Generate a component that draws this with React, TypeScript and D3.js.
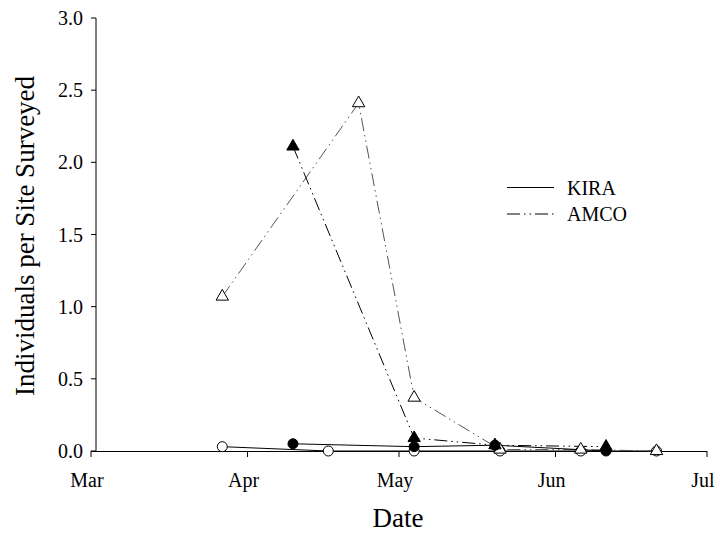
import React from "react";
import * as d3 from "d3";

// Survey dates and mean counts per site
const kiraOpenDates = ["2002-03-27", "2002-04-17", "2002-05-04", "2002-05-21", "2002-06-06", "2002-06-21"];
const kiraOpenValues = [0.03, 0.0, 0.0, 0.0, 0.0, 0.0];
const kiraFilledDates = ["2002-04-10", "2002-05-04", "2002-05-20", "2002-06-11"];
const kiraFilledValues = [0.05, 0.03, 0.04, 0.0];
const amcoOpenDates = ["2002-03-27", "2002-04-23", "2002-05-04", "2002-05-21", "2002-06-06", "2002-06-21"];
const amcoOpenValues = [1.07, 2.41, 0.37, 0.01, 0.01, 0.0];
const amcoFilledDates = ["2002-04-10", "2002-05-04", "2002-05-20", "2002-06-11"];
const amcoFilledValues = [2.11, 0.09, 0.04, 0.03];

const monthTicks = ["2002-03-01", "2002-04-01", "2002-05-01", "2002-06-01", "2002-07-01"];
const monthLabels = ["Mar", "Apr", "May", "Jun", "Jul"];
const yTicks = [0, 0.5, 1.0, 1.5, 2.0, 2.5, 3.0];

const legendNames = ["KIRA", "AMCO"];

const parse = d3.utcParse("%Y-%m-%d");
const FONT = "'Liberation Serif', 'Times New Roman', serif";
const DASH_DOT_DOT = "13,4,1.5,4,1.5,4";

type Pt = { d: Date; v: number };
const zipSeries = (dates: string[], vals: number[]): Pt[] =>
  dates.map((s, i) => ({ d: parse(s) as Date, v: vals[i] }));

export default function App() {
  const width = 716;
  const height = 535;
  const xLeft = 91;
  const xRight = 707;
  const yAxisX = 96;
  const yBottom = 451;
  const yTop = 18;

  const x = d3
    .scaleUtc()
    .domain([parse(monthTicks[0]) as Date, parse(monthTicks[monthTicks.length - 1]) as Date])
    .range([xLeft, xRight]);
  const y = d3.scaleLinear().domain([0, 3]).range([yBottom, yTop]);

  const line = d3
    .line<Pt>()
    .x((p) => x(p.d))
    .y((p) => y(p.v));

  const kiraOpen = zipSeries(kiraOpenDates, kiraOpenValues);
  const kiraFilled = zipSeries(kiraFilledDates, kiraFilledValues);
  const amcoOpen = zipSeries(amcoOpenDates, amcoOpenValues);
  const amcoFilled = zipSeries(amcoFilledDates, amcoFilledValues);

  const tri = d3.symbol().type(d3.symbolTriangle).size(66)() as string;
  const circleR = 5;

  return (
    <svg width={width} height={height} style={{ position: "absolute", left: 0, top: 0, background: "#fff" }}>
      <rect x={0} y={0} width={width} height={height} fill="#fff" />

      {/* axes */}
      <line x1={yAxisX} y1={yTop} x2={yAxisX} y2={yBottom} stroke="#000" strokeWidth={1} />
      <line x1={xLeft} y1={yBottom + 0.5} x2={xRight} y2={yBottom + 0.5} stroke="#000" strokeWidth={1} />
      {yTicks.map((t) => (
        <g key={t}>
          <line x1={yAxisX - 5} y1={y(t)} x2={yAxisX} y2={y(t)} stroke="#000" strokeWidth={1} />
          <text
            x={83}
            y={y(t)}
            dy="0.35em"
            textAnchor="end"
            fontFamily={FONT}
            fontSize={20}
            fill="#000"
          >
            {t.toFixed(1)}
          </text>
        </g>
      ))}
      {monthTicks.map((m, i) => {
        const px = x(parse(m) as Date);
        return (
          <g key={m}>
            <line x1={px} y1={yBottom} x2={px} y2={yBottom + 6} stroke="#000" strokeWidth={1} />
            <text x={px - 4} y={yBottom + 36} textAnchor="middle" fontFamily={FONT} fontSize={20} fill="#000">
              {monthLabels[i]}
            </text>
          </g>
        );
      })}

      {/* axis titles */}
      <text x={398} y={527} textAnchor="middle" fontFamily={FONT} fontSize={27} fill="#000">
        Date
      </text>
      <text
        transform={`translate(34,236) rotate(-90)`}
        textAnchor="middle"
        fontFamily={FONT}
        fontSize={27}
        fill="#000"
      >
        Individuals per Site Surveyed
      </text>

      {/* series lines */}
      <path d={line(kiraOpen) as string} fill="none" stroke="#000" strokeWidth={1} />
      <path d={line(amcoOpen) as string} fill="none" stroke="#555" strokeWidth={1} strokeDasharray={DASH_DOT_DOT} />
      <path d={line(kiraFilled) as string} fill="none" stroke="#000" strokeWidth={1} />
      <path d={line(amcoFilled) as string} fill="none" stroke="#000" strokeWidth={1} strokeDasharray={DASH_DOT_DOT} />

      {/* markers */}
      {kiraOpen.map((p, i) => (
        <circle key={`ko${i}`} cx={x(p.d)} cy={y(p.v)} r={circleR} fill="#fff" stroke="#000" strokeWidth={1} />
      ))}
      {amcoOpen.map((p, i) => (
        <path
          key={`ao${i}`}
          d={tri}
          transform={`translate(${x(p.d)},${y(p.v)})`}
          fill="#fff"
          stroke="#000"
          strokeWidth={1}
        />
      ))}
      {kiraFilled.map((p, i) => (
        <circle key={`kf${i}`} cx={x(p.d)} cy={y(p.v)} r={circleR} fill="#000" stroke="#000" strokeWidth={1} />
      ))}
      {amcoFilled.map((p, i) => (
        <path
          key={`af${i}`}
          d={tri}
          transform={`translate(${x(p.d)},${y(p.v)})`}
          fill="#000"
          stroke="#000"
          strokeWidth={1}
        />
      ))}

      {/* legend */}
      {legendNames.map((name, i) => {
        const ly = 187.5 + i * 26.5;
        return (
          <g key={name}>
            <line
              x1={507}
              y1={ly}
              x2={554}
              y2={ly}
              stroke="#000"
              strokeWidth={1}
              strokeDasharray={i === 0 ? undefined : DASH_DOT_DOT}
            />
            <text x={567} y={ly} dy="0.35em" fontFamily={FONT} fontSize={20} fill="#000">
              {name}
            </text>
          </g>
        );
      })}
    </svg>
  );
}
